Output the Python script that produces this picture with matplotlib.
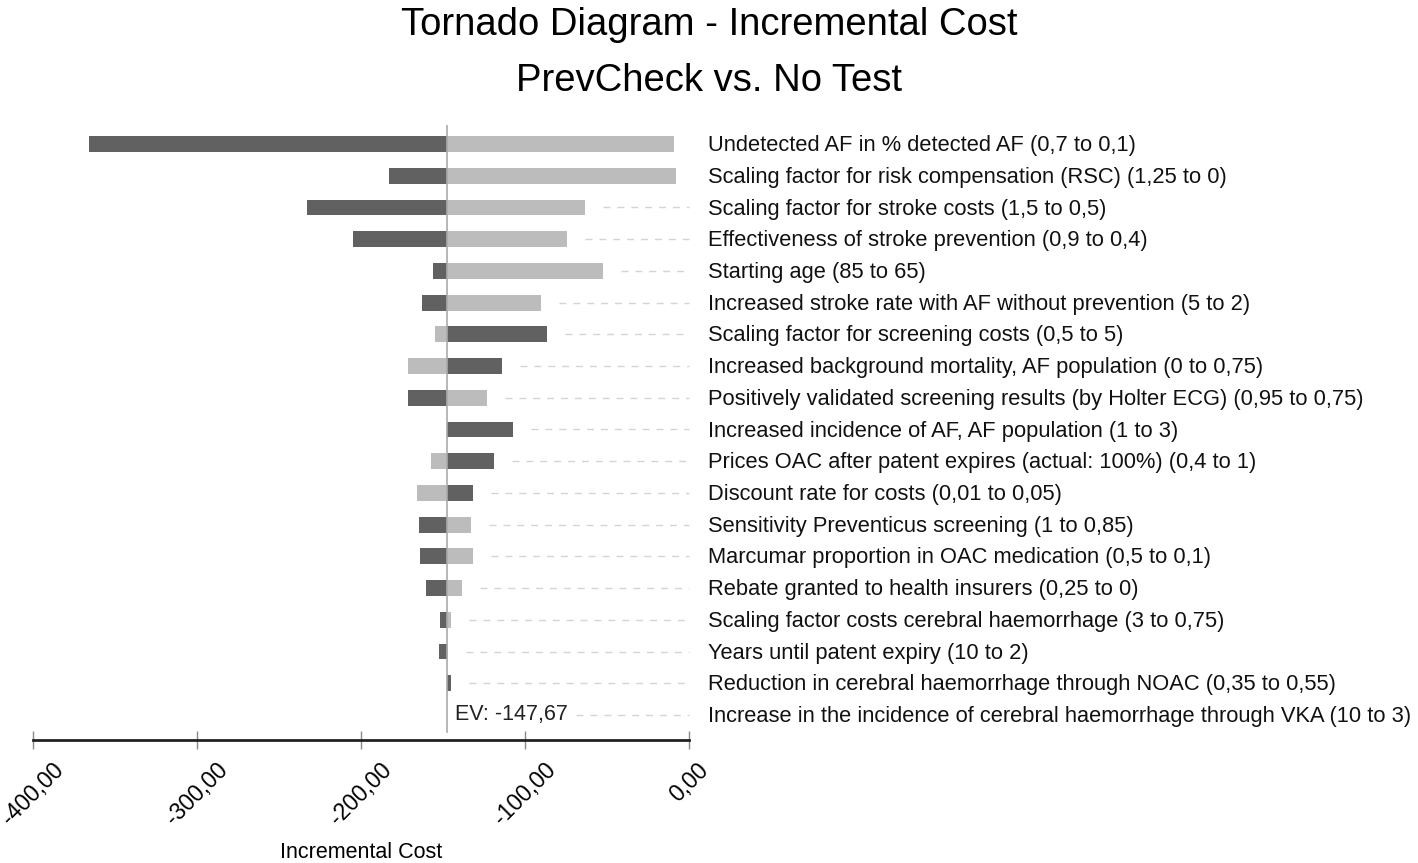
import matplotlib.pyplot as plt
from matplotlib.transforms import blended_transform_factory

plt.rcParams['font.family'] = ['Liberation Sans', 'DejaVu Sans']

DARK = '#616161'; LIGHT = '#bcbcbc'; DASH = '#d4d4d4'; AXC = '#222222'

EV = -147.67

params = [
    'Undetected AF in % detected AF (0,7 to 0,1)',
    'Scaling factor for risk compensation (RSC) (1,25 to 0)',
    'Scaling factor for stroke costs (1,5 to 0,5)',
    'Effectiveness of stroke prevention (0,9 to 0,4)',
    'Starting age (85 to 65)',
    'Increased stroke rate with AF without prevention (5 to 2)',
    'Scaling factor for screening costs (0,5 to 5)',
    'Increased background mortality, AF population (0 to 0,75)',
    'Positively validated screening results (by Holter ECG) (0,95 to 0,75)',
    'Increased incidence of AF, AF population (1 to 3)',
    'Prices OAC after patent expires (actual: 100%) (0,4 to 1)',
    'Discount rate for costs (0,01 to 0,05)',
    'Sensitivity Preventicus screening (1 to 0,85)',
    'Marcumar proportion in OAC medication (0,5 to 0,1)',
    'Rebate granted to health insurers (0,25 to 0)',
    'Scaling factor costs cerebral haemorrhage (3 to 0,75)',
    'Years until patent expiry (10 to 2)',
    'Reduction in cerebral haemorrhage through NOAC (0,35 to 0,55)',
    'Increase in the incidence of cerebral haemorrhage through VKA (10 to 3)',
]
# incremental cost at the two ends of each parameter range
dark_vals = [-365.6, -182.8, -232.8, -204.9, -156.0, -163.0, -86.7, -114.0,
             -171.6, -107.6, -118.8, -131.9, -164.6, -163.8, -160.2, -151.8,
             -152.6, -145.4, -147.67]
light_vals = [-8.9, -7.8, -63.4, -74.6, -52.3, -90.0, -155.1, -171.6,
              -123.0, -147.67, -157.4, -166.0, -133.1, -131.9, -138.6, -145.1,
              -147.0, -147.67, -147.67]
xticks = [-400, -300, -200, -100, 0]

W, H = 1418, 863
fig = plt.figure(figsize=(W / 100, H / 100), dpi=100, facecolor='white')
ax = fig.add_axes([33 / W, (H - 740) / H, 656 / W, 615 / H])

rows = list(range(len(params)))
ax.barh(rows, [d - EV for d in dark_vals], left=EV, height=0.5,
        color=DARK, zorder=2)
ax.barh(rows, [l - EV for l in light_vals], left=EV, height=0.5,
        color=LIGHT, zorder=2)

ax.set_xlim(-400, 0)
ax.set_ylim(18.79, -0.6)

# dashed leaders from bar end to label
for i in rows:
    start = max(dark_vals[i], light_vals[i]) + 11
    if start < -1:
        ax.plot([start, 0], [i, i], color=DASH, lw=1, ls=(0, (5, 5)),
                zorder=1, clip_on=False)

ax.plot([EV, EV], [-0.6, 18.55], color='#aaaaaa', lw=1.2, zorder=3)
ax.text(EV + 5, 18, 'EV: ' + f'{EV:.2f}'.replace('.', ','), fontsize=15.5,
        va='center', ha='left', color='#222222', zorder=4,
        bbox=dict(facecolor='white', edgecolor='none', pad=2))

tr = blended_transform_factory(ax.transAxes, ax.transData)
for i, p in enumerate(params):
    ax.text(1.029, i + 0.05, p, transform=tr, fontsize=15.75, va='center',
            ha='left', color='#111111', clip_on=False)

for sp in ['top', 'right', 'left']:
    ax.spines[sp].set_visible(False)
ax.spines['bottom'].set_color(AXC)
ax.spines['bottom'].set_linewidth(2)
ax.set_yticks([])
ax.set_xticks(xticks)
ax.set_xticklabels([f'{v:.2f}'.replace('.', ',') for v in xticks],
                   rotation=45, ha='center', fontsize=16.5)
ax.tick_params(axis='x', direction='inout', length=13, width=1,
               color='#888888', pad=7)

fig.text(361 / W, 1 - 852 / H, 'Incremental Cost', fontsize=15.5,
         ha='center', va='center')
fig.text(0.5, 1 - 35 / H, 'Tornado Diagram - Incremental Cost', fontsize=27.5,
         ha='center', va='baseline')
fig.text(0.5, 1 - 91 / H, 'PrevCheck vs. No Test', fontsize=27.5,
         ha='center', va='baseline')

fig.savefig('out.png', dpi=100, facecolor='white')
